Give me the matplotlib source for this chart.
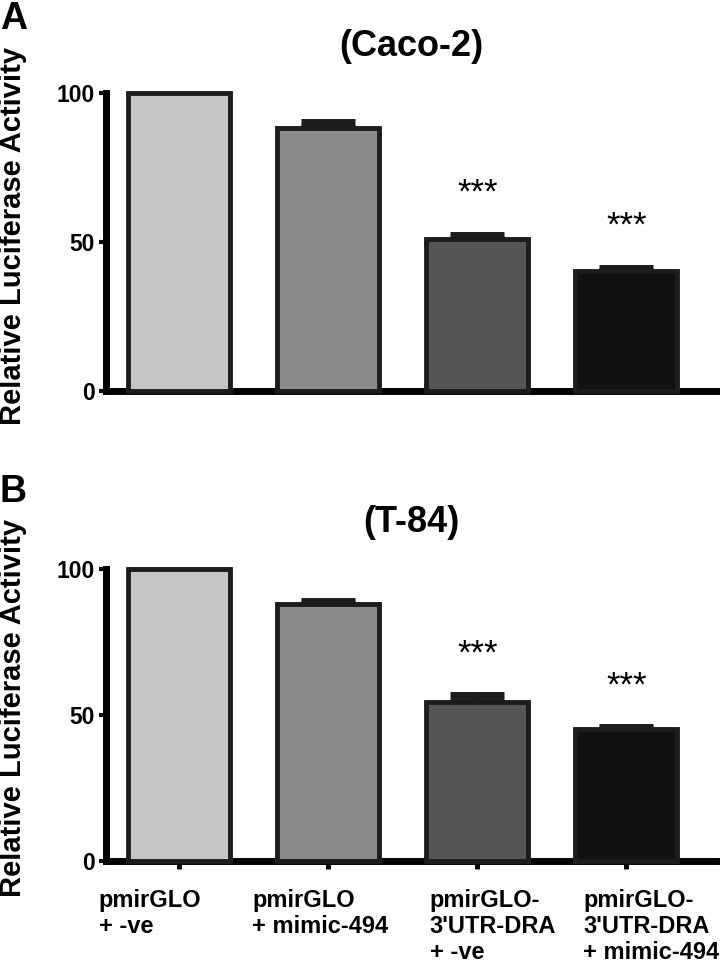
#!/usr/bin/env python

import matplotlib as mp
mp.use('Agg')
import matplotlib.pyplot as plt
import matplotlib.transforms as mtrans

plt.rcParams['font.family'] = ['Liberation Sans', 'DejaVu Sans']

GROUPS = ['pmirGLO\n+ -ve', 'pmirGLO\n+ mimic-494',
          "pmirGLO-\n3'UTR-DRA\n+ -ve", "pmirGLO-\n3'UTR-DRA\n+ mimic-494"]
CACO_MEAN = [100, 88.3, 51.0, 40.3]
CACO_SEM = [0, 2.0, 1.4, 1.0]
T84_MEAN = [100, 87.9, 54.5, 45.2]
T84_SEM = [0, 1.3, 2.4, 0.8]
SIGNIF = ['', '', '***', '***']
YTICKS = [0, 50, 100]

COLORS = ['#c4c4c4', '#8a8a8a', '#555555', '#111111']
EDGE = '#1c1c1c'
LABEL_SHIFT = [-0.54, -0.51, -0.32, -0.29]


def panel(ax, means, sems, title, ylab_y):
	x = list(range(len(means)))
	ax.bar(x, means, width=0.685, color=COLORS, edgecolor=EDGE,
	       linewidth=3.5, zorder=3, clip_on=False)
	# only the upper half of the error bar, as in prism
	ex = [i for i in x if sems[i] > 0]
	ax.errorbar(ex, [means[i] for i in ex],
	            yerr=[[0]*len(ex), [sems[i] for i in ex]],
	            fmt='none', ecolor=EDGE, elinewidth=3, capsize=19.5,
	            capthick=5, zorder=2)
	for i in x:
		if SIGNIF[i]:
			ax.text(i, means[i] + sems[i] + 14, SIGNIF[i], ha='center',
			        va='center', fontsize=25)
	ax.set_xlim(-0.49, 3.6)
	ax.set_ylim(0, 100)
	ax.set_yticks(YTICKS)
	ax.set_yticklabels([str(t) for t in YTICKS], fontsize=16.5, fontweight='bold')
	ax.tick_params(axis='y', length=5, width=3, pad=3)
	for s in ['top', 'right']:
		ax.spines[s].set_visible(False)
	for s in ['left', 'bottom']:
		ax.spines[s].set_linewidth(5)
	ax.set_title(title, fontsize=26, fontweight='bold', pad=27)
	ax.set_ylabel('Relative Luciferase Activity', fontsize=21, fontweight='bold')
	ax.yaxis.set_label_coords(-0.13, ylab_y)


fig = plt.figure(figsize=(7.2, 9.63), dpi=100, facecolor='w')
axA = fig.add_axes([0.1472, 0.594, 0.847, 0.3094])
axB = fig.add_axes([0.1472, 0.1059, 0.847, 0.3032])

panel(axA, CACO_MEAN, CACO_SEM, '(Caco-2)', 0.52)
panel(axB, T84_MEAN, T84_SEM, '(T-84)', 0.524)

axA.set_xticks([])
axB.set_xticks(range(len(GROUPS)))
axB.set_xticklabels([''] * len(GROUPS))
axB.tick_params(axis='x', length=6, width=3.5)

trans = mtrans.blended_transform_factory(axB.transData, axB.transAxes)
for i, lab in enumerate(GROUPS):
	axB.text(i + LABEL_SHIFT[i], -0.097, lab, transform=trans, ha='left',
	         va='top', fontsize=17, fontweight='bold', linespacing=1.15)

fig.text(0.0, 0.999, 'A', fontsize=27, fontweight='bold', ha='left', va='top')
fig.text(0.0, 0.508, 'B', fontsize=27, fontweight='bold', ha='left', va='top')

plt.savefig('out.png', dpi=100)
